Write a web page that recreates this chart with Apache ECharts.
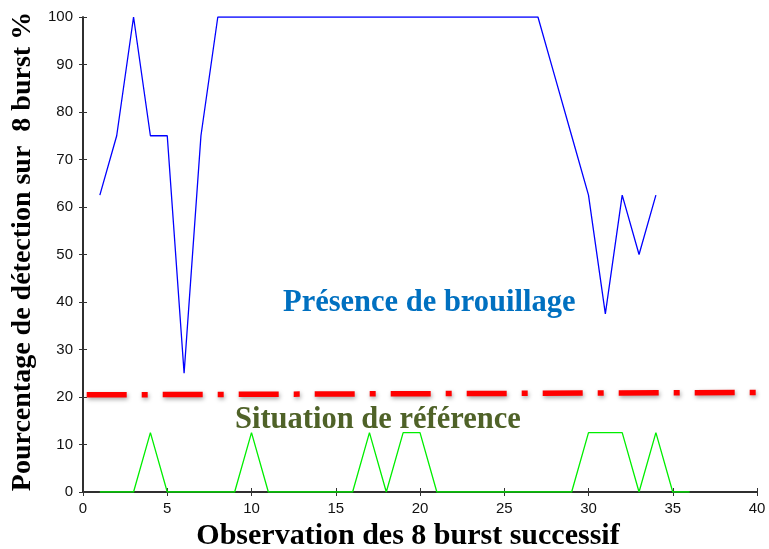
<!DOCTYPE html>
<html>
<head>
<meta charset="utf-8">
<script src="https://cdn.jsdelivr.net/npm/echarts@6/dist/echarts.min.js"></script>
<style>
  html, body { margin: 0; padding: 0; background: #fff; }
  #chart { width: 769px; height: 549px; }
</style>
</head>
<body>
<div id="chart"></div>
<script>
// Observation index (1..36)
const obsJam = [1,2,3,4,5,6,7,8,9,10,11,12,13,14,15,16,17,18,19,20,21,22,23,24,25,26,27,28,29,30,31,32,33,34];
// Detection percentage with jamming present
const jamValues = [62.5,75,100,75,75,25,75,100,100,100,100,100,100,100,100,100,100,100,100,100,100,100,100,100,100,100,100,87.5,75,62.5,37.5,62.5,50,62.5];

const obsRef = [1,2,3,4,5,6,7,8,9,10,11,12,13,14,15,16,17,18,19,20,21,22,23,24,25,26,27,28,29,30,31,32,33,34,35,36];
// Detection percentage in the reference situation
const refValues = [0,0,0,12.5,0,0,0,0,0,12.5,0,0,0,0,0,0,12.5,0,12.5,12.5,0,0,0,0,0,0,0,0,0,12.5,12.5,12.5,0,12.5,0,0];

// Threshold separating the two situations
const thresholdX = [0.22, 40.3];
const thresholdY = [20.45, 20.95];

const xTicks = [0,5,10,15,20,25,30,35,40];
const yTicks = [0,10,20,30,40,50,60,70,80,90,100];

const labelJam = 'Présence de brouillage';
const labelRef = 'Situation de référence';
const xTitle = 'Observation des 8 burst successif';
const yTitle = 'Pourcentage de détection sur  8 burst %';

const chart = echarts.init(document.getElementById('chart'), null, { renderer: 'canvas' });

const serif = "'Liberation Serif', 'Times New Roman', serif";
const sans = "'Liberation Sans', Arial, sans-serif";

const axisLine = { show: true, lineStyle: { color: '#222', width: 1.5 } };
const tickIn = { show: true, inside: true, length: 4, lineStyle: { color: '#333', width: 1 } };

const zip = (xs, ys) => xs.map((x, i) => [x, ys[i]]);

chart.setOption({
  animation: false,
  backgroundColor: '#fff',
  grid: { left: 83, right: 12, top: 17, bottom: 57, containLabel: false, outerBoundsMode: 'none' },
  xAxis: [
    {
      type: 'value', min: xTicks[0], max: xTicks[xTicks.length - 1], interval: 5,
      axisLine: axisLine, axisTick: tickIn, splitLine: { show: false },
      axisLabel: { color: '#111', fontFamily: sans, fontSize: 15, margin: 9 },
      name: xTitle, nameLocation: 'middle', nameGap: 28,
      nameTextStyle: { fontFamily: serif, fontWeight: 'bold', fontSize: 30, color: '#000', padding: [0, 24, 0, 0] }
    },
    {
      type: 'value', position: 'top', min: 0, max: 40, interval: 5,
      axisLine: axisLine, axisTick: tickIn, splitLine: { show: false },
      axisLabel: { show: false }
    }
  ],
  yAxis: [
    {
      type: 'value', min: yTicks[0], max: yTicks[yTicks.length - 1], interval: 10,
      axisLine: axisLine, axisTick: tickIn, splitLine: { show: false },
      axisLabel: { color: '#111', fontFamily: sans, fontSize: 15, margin: 10 },
      name: yTitle, nameLocation: 'middle', nameGap: 46,
      nameTextStyle: { fontFamily: serif, fontWeight: 'bold', fontSize: 28, color: '#000', padding: [0, 0, 0, 6] }
    },
    {
      type: 'value', position: 'right', min: 0, max: 100, interval: 10,
      axisLine: axisLine, axisTick: tickIn, splitLine: { show: false },
      axisLabel: { show: false }
    }
  ],
  series: [
    {
      name: labelRef, type: 'line', data: zip(obsRef, refValues),
      showSymbol: false, symbol: 'none', z: 3,
      lineStyle: { color: '#00ee00', width: 1.3 }
    },
    {
      name: labelJam, type: 'line', data: zip(obsJam, jamValues),
      showSymbol: false, symbol: 'none', z: 3,
      lineStyle: { color: '#0000ff', width: 1.3 }
    },
    {
      name: 'seuil', type: 'line', data: zip(thresholdX, thresholdY),
      showSymbol: false, symbol: 'none', clip: false, z: 4,
      lineStyle: {
        color: '#ff0000', width: 5.5, type: [40, 15, 6, 15], cap: 'butt',
        shadowColor: 'rgba(0,0,0,0.35)', shadowBlur: 4, shadowOffsetX: 1, shadowOffsetY: 2
      }
    }
  ],
  graphic: [
    {
      type: 'text', left: 283, top: 288, z: 10,
      style: { text: labelJam, fill: '#0070c0', font: "bold 30.5px 'Liberation Serif', serif" }
    },
    {
      type: 'text', left: 235, top: 405, z: 10,
      style: { text: labelRef, fill: '#4f6228', font: "bold 30.5px 'Liberation Serif', serif" }
    }
  ]
});
</script>
</body>
</html>
